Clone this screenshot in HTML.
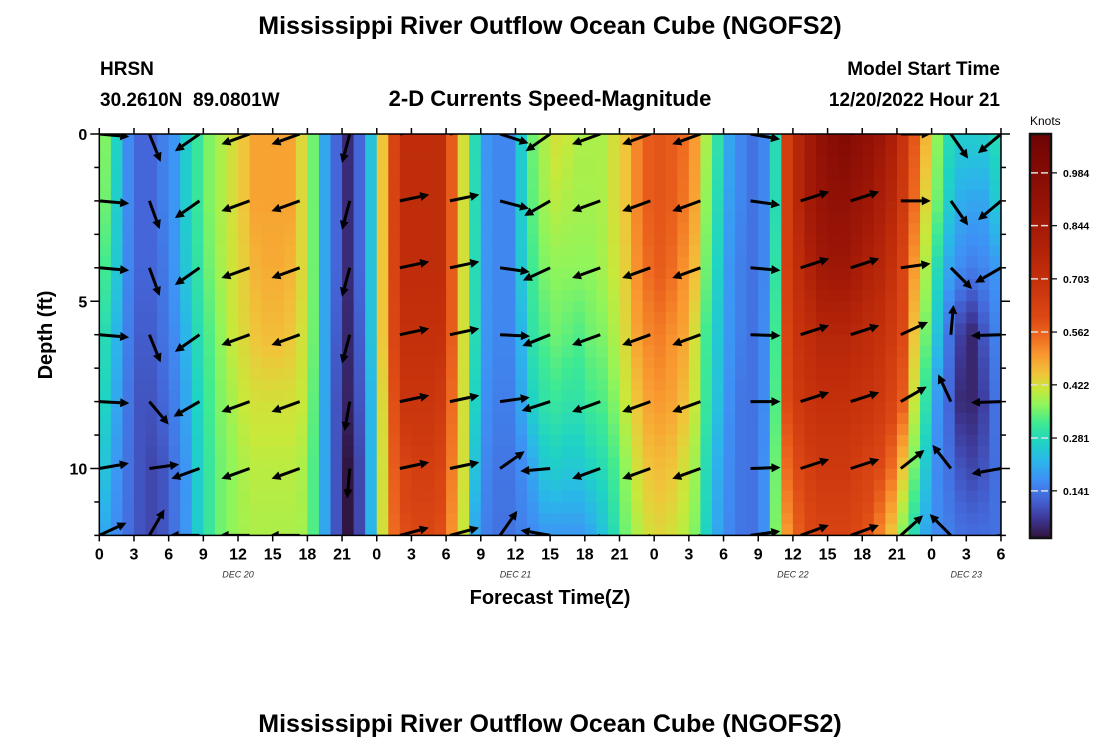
<!DOCTYPE html>
<html><head><meta charset="utf-8"><title>Mississippi River Outflow Ocean Cube (NGOFS2)</title>
<style>
html,body{margin:0;padding:0;background:#fff;}
body{width:1100px;height:750px;overflow:hidden;font-family:"Liberation Sans",Arial,sans-serif;}
svg text{font-family:"Liberation Sans",Arial,sans-serif;}
</style></head>
<body>
<svg id="chart" width="1100" height="750" viewBox="0 0 1100 750" xmlns="http://www.w3.org/2000/svg">
<rect x="0" y="0" width="1100" height="750" fill="#fff"/>
<text x="550" y="34" text-anchor="middle" font-size="25" font-weight="bold">Mississippi River Outflow Ocean Cube (NGOFS2)</text>
<text x="100" y="75" font-size="19" font-weight="bold">HRSN</text>
<text x="100" y="106" font-size="19" font-weight="bold" xml:space="preserve">30.2610N  89.0801W</text>
<text x="550" y="106" text-anchor="middle" font-size="22" font-weight="bold">2-D Currents Speed-Magnitude</text>
<text x="1000" y="75" text-anchor="end" font-size="19" font-weight="bold">Model Start Time</text>
<text x="1000" y="106" text-anchor="end" font-size="19" font-weight="bold">12/20/2022 Hour 21</text>
<g id="heat"></g>
<g id="arrows"></g>
<g id="axes"></g>
<g id="cbar"></g>
<text transform="translate(52,335) rotate(-90)" text-anchor="middle" font-size="20" font-weight="bold">Depth (ft)</text>
<text x="550" y="604" text-anchor="middle" font-size="20" font-weight="bold">Forecast Time(Z)</text>
<text x="550" y="732" text-anchor="middle" font-size="25" font-weight="bold">Mississippi River Outflow Ocean Cube (NGOFS2)</text>
</svg>
<script>
// ---- data ----
const depthNodes = [0, 2, 4, 6, 8, 10, 12];
const hoursCount = 78;
const speed0 = [.36,.27,.165,.12,.12,.15,.18,.26,.31,.36, .39,.42,.45,.49,.49,.49,.49,.43,.35,.2, .12,.05,.12,.24,.45,.62,.72,.72,.72,.72, .57,.42,.285,.18,.16,.16,.26,.35,.39,.42, .41,.39,.39,.39,.42,.45,.52,.57,.58,.57, .55,.5,.39,.3,.2,.16,.135,.16,.285,.64, .76,.85,.925,.97,1.0,.955,.925,.88,.81,.69, .58,.47,.37,.285,.26,.26,.26,.285];
const speed2 = [.35,.26,.165,.12,.12,.15,.18,.26,.31,.36, .39,.42,.45,.49,.49,.49,.49,.43,.35,.2, .12,.05,.12,.24,.45,.62,.72,.72,.72,.72, .57,.42,.285,.18,.16,.16,.26,.34,.38,.4, .39,.385,.385,.39,.42,.45,.52,.57,.58,.57, .54,.49,.37,.285,.19,.16,.135,.16,.285,.64, .76,.85,.895,.925,.925,.895,.865,.81,.76,.66, .55,.43,.35,.26,.21,.2,.2,.25];
const speed4 = [.32,.25,.16,.12,.12,.14,.18,.25,.3,.35, .385,.415,.44,.47,.48,.48,.47,.43,.35,.2, .12,.05,.12,.24,.45,.62,.72,.72,.72,.72, .57,.42,.285,.18,.16,.16,.25,.32,.36,.37, .37,.37,.37,.385,.41,.44,.51,.55,.57,.55, .51,.46,.35,.27,.18,.15,.135,.16,.3,.64, .72,.79,.85,.865,.865,.83,.79,.76,.7,.62, .5,.39,.285,.2,.165,.15,.16,.18];
const speed6 = [.285,.22,.15,.11,.11,.135,.165,.22,.285,.33, .37,.41,.43,.45,.46,.46,.45,.42,.35,.2, .11,.045,.11,.24,.45,.61,.7,.7,.7,.7, .57,.42,.285,.18,.16,.16,.22,.3,.33,.35, .34,.33,.35,.36,.39,.43,.49,.52,.53,.51, .49,.42,.32,.25,.18,.15,.135,.165,.32,.62, .69,.72,.76,.76,.76,.74,.72,.7,.66,.6, .45,.35,.24,.14,.075,.045,.1,.15];
const speed8 = [.27,.2,.14,.1,.1,.12,.15,.2,.27,.32, .36,.385,.41,.42,.42,.42,.42,.41,.34,.2, .1,.04,.1,.22,.43,.59,.68,.68,.68,.66, .55,.42,.27,.17,.15,.15,.2,.27,.3,.31, .3,.3,.32,.33,.36,.41,.45,.49,.5,.49, .46,.41,.31,.24,.17,.14,.135,.165,.33,.6, .66,.69,.7,.7,.7,.69,.68,.66,.62,.57, .41,.3,.18,.12,.05,.045,.075,.135];
const speed10 = [.24,.18,.135,.1,.085,.1,.14,.18,.26,.31, .35,.37,.39,.4,.4,.4,.4,.39,.33,.2, .1,.02,.085,.22,.42,.57,.62,.64,.64,.62, .53,.42,.24,.16,.14,.14,.165,.2,.25,.26, .25,.25,.27,.285,.32,.37,.42,.45,.46,.45, .42,.38,.285,.21,.165,.14,.135,.17,.35,.55, .6,.64,.66,.66,.66,.64,.62,.6,.55,.45, .35,.25,.165,.135,.1,.085,.1,.13];
const speed12 = [.2,.165,.13,.1,.085,.1,.135,.18,.26,.31, .35,.37,.385,.39,.39,.39,.39,.385,.33,.2, .1,.02,.085,.22,.42,.55,.59,.61,.61,.59, .51,.41,.2,.15,.135,.135,.15,.165,.18,.18, .18,.18,.2,.24,.285,.35,.39,.42,.43,.42, .4,.36,.27,.2,.16,.14,.135,.17,.36,.5, .57,.6,.62,.62,.62,.6,.58,.52,.45,.36, .285,.2,.165,.15,.135,.13,.13,.135];
const speedRows = [speed0, speed2, speed4, speed6, speed8, speed10, speed12];

// arrow directions (degrees, 0 = east, 90 = south) per arrow column, one array per depth node
const arrowHours = [0,4.333,8.667,13,17.333,21.667,26,30.333,34.667,39,43.333,47.667,52,56.333,60.667,65,69.333,73.667,78];
const dir0  = [5,68,145,160,160,105,-12,-12,18,145,160,160,160,10,-18,-18,0,55,140];
const dir2  = [5,70,145,160,160,105,-12,-12,15,150,160,160,160,8,-18,-18,0,55,140];
const dir4  = [5,70,145,160,160,105,-12,-12,8,155,160,160,160,5,-18,-18,-8,45,150];
const dir6  = [5,68,145,160,160,105,-12,-12,3,158,160,160,160,2,-18,-18,-25,-85,178];
const dir8  = [3,50,150,160,160,100,-12,-12,-8,162,160,160,160,0,-18,-18,-30,-115,178];
const dir10 = [-10,-8,160,160,160,95,-12,-12,-35,175,160,160,160,-2,-18,-18,-38,-128,170];
const dir12 = [-25,-60,180,180,180,95,-15,-15,-55,190,160,160,160,-8,-20,-20,-42,-135,170];
const dirRows = [dir0, dir2, dir4, dir6, dir8, dir10, dir12];

const xTickLabels = ['0','3','6','9','12','15','18','21','0','3','6','9','12','15','18','21','0','3','6','9','12','15','18','21','0','3','6'];
const dayLabels = ['DEC 20','DEC 21','DEC 22','DEC 23'];
const dayLabelHours = [12, 36, 60, 75];
const yTickLabels = ['0','5','10'];
const cbarTicks = [0.141, 0.281, 0.422, 0.562, 0.703, 0.844, 0.984];

// ---- layout ----
const X0 = 99.3, PXH = 11.56, Y0 = 134, PXF = 33.45;
const xs = h => X0 + h * PXH;
const ys = d => Y0 + d * PXF;
const XMAX = xs(hoursCount), YMAX = ys(12);
const VMIN = 0.016, VMAX = 1.087;
const stops = [[0.016,[48,18,59]],[0.07,[62,58,154]],[0.12,[68,102,216]],[0.17,[63,143,245]],[0.22,[43,182,234]],[0.27,[31,211,196]],[0.32,[63,234,146]],[0.37,[144,245,90]],[0.41,[200,232,58]],[0.45,[240,197,58]],[0.5,[249,154,48]],[0.55,[238,106,32]],[0.6,[220,72,20]],[0.7,[196,48,11]],[0.8,[173,31,8]],[0.9,[150,19,6]],[1.0,[130,10,4]],[1.087,[110,4,4]]];
function color(v){
  if (v <= stops[0][0]) return 'rgb(' + stops[0][1].join(',') + ')';
  for (let i = 1; i < stops.length; i++) {
    if (v <= stops[i][0]) {
      const a = stops[i-1], b = stops[i], t = (v - a[0]) / (b[0] - a[0]);
      const c = a[1].map((x, k) => Math.round(x + (b[1][k] - x) * t));
      return 'rgb(' + c.join(',') + ')';
    }
  }
  return 'rgb(' + stops[stops.length-1][1].join(',') + ')';
}
const NS = 'http://www.w3.org/2000/svg';
function mk(tag, attrs, parent){ const e = document.createElementNS(NS, tag); for (const k in attrs) e.setAttribute(k, attrs[k]); parent.appendChild(e); return e; }

// ---- heatmap ----
const heat = document.getElementById('heat');
const SUB = 3;
function valueAt(h, d){
  const i = Math.min(Math.floor(d / 2), 5), t = (d - i * 2) / 2;
  return speedRows[i][h] * (1 - t) + speedRows[i+1][h] * t;
}
for (let h = 0; h < hoursCount; h++) {
  for (let s = 0; s < 12 * SUB; s++) {
    const d0 = s / SUB, dm = (s + 0.5) / SUB;
    const r = mk('rect', {x: xs(h).toFixed(2), y: ys(d0).toFixed(2), width: (PXH + 0.6).toFixed(2), height: (PXF / SUB + 0.6).toFixed(2), fill: color(valueAt(h, dm))}, heat);
    
    
  }
}

// ---- arrows ----
const arrows = document.getElementById('arrows');
mk('clipPath', {id: 'plotclip'}, mk('defs', {}, document.getElementById('chart')));
const cp = document.getElementById('plotclip');
mk('rect', {x: X0, y: Y0, width: XMAX - X0, height: YMAX - Y0}, cp);
arrows.setAttribute('clip-path', 'url(#plotclip)');
const AL = 30;
for (let r = 0; r < depthNodes.length; r++) {
  for (let c = 0; c < arrowHours.length; c++) {
    const a = dirRows[r][c] * Math.PI / 180;
    const x1 = xs(arrowHours[c]), y1 = ys(depthNodes[r]);
    const x2 = x1 + AL * Math.cos(a), y2 = y1 + AL * Math.sin(a);
    const g = mk('g', {}, arrows);
    
    
    const hx = x2 - 9 * Math.cos(a), hy = y2 - 9 * Math.sin(a);
    mk('line', {x1: x1, y1: y1, x2: hx, y2: hy, stroke: '#000', 'stroke-width': 3}, g);
    const px = -Math.sin(a) * 4.5, py = Math.cos(a) * 4.5;
    mk('polygon', {points: `${x2},${y2} ${hx+px},${hy+py} ${hx-px},${hy-py}`, fill: '#000'}, g);
  }
}

// ---- axes ----
const axes = document.getElementById('axes');
const frame = mk('rect', {x: X0, y: Y0, width: XMAX - X0, height: YMAX - Y0, fill: 'none', stroke: '#000', 'stroke-width': 1.5}, axes);


for (let i = 0; i < xTickLabels.length; i++) {
  const x = xs(i * 3);
  mk('line', {x1: x, y1: Y0, x2: x, y2: Y0 - 6, stroke: '#000', 'stroke-width': 1.5}, axes);
  mk('line', {x1: x, y1: YMAX, x2: x, y2: YMAX + 6, stroke: '#000', 'stroke-width': 1.5}, axes);
  const t = mk('text', {x: x, y: YMAX + 24, 'text-anchor': 'middle', 'font-size': 16, 'font-weight': 'bold'}, axes);
  t.textContent = xTickLabels[i];
  
  
}
for (let i = 0; i < dayLabels.length; i++) {
  const t = mk('text', {x: xs(dayLabelHours[i]), y: YMAX + 42, 'text-anchor': 'middle', 'font-size': 9, 'font-style': 'italic', 'font-family': '"Liberation Mono", monospace', fill: '#333'}, axes);
  t.textContent = dayLabels[i];
  
  
}
for (let d = 0; d <= 12; d++) {
  const y = ys(d), major = d % 5 === 0;
  mk('line', {x1: X0, y1: y, x2: X0 - (major ? 9 : 5), y2: y, stroke: '#000', 'stroke-width': 1.5}, axes);
  mk('line', {x1: XMAX, y1: y, x2: XMAX + (major ? 9 : 5), y2: y, stroke: '#000', 'stroke-width': 1.5}, axes);
}
for (let i = 0; i < yTickLabels.length; i++) {
  const t = mk('text', {x: X0 - 12, y: ys(i * 5) + 6, 'text-anchor': 'end', 'font-size': 16, 'font-weight': 'bold'}, axes);
  t.textContent = yTickLabels[i];
  
  
}

// ---- colorbar ----
const cb = document.getElementById('cbar');
const CBX = 1030, CBW = 21, CBT = 134, CBB = 538;
const cy = v => CBB - (v - VMIN) / (VMAX - VMIN) * (CBB - CBT);
const defs = document.querySelector('defs');
const grad = mk('linearGradient', {id: 'cbgrad', x1: 0, y1: 1, x2: 0, y2: 0}, defs);
for (const s of stops) mk('stop', {offset: ((s[0] - VMIN) / (VMAX - VMIN)).toFixed(4), 'stop-color': color(s[0])}, grad);
const bar = mk('rect', {x: CBX, y: CBT, width: CBW, height: CBB - CBT, fill: 'url(#cbgrad)', stroke: '#111', 'stroke-width': 2.5}, cb);


for (const v of cbarTicks) {
  const y = cy(v);
  mk('line', {x1: CBX + 1, y1: y, x2: CBX + CBW - 1, y2: y, stroke: '#ddd', 'stroke-width': 1.5, 'stroke-dasharray': '7,3'}, cb);
  mk('line', {x1: CBX + CBW, y1: y, x2: CBX + CBW + 6, y2: y, stroke: '#000', 'stroke-width': 1.2}, cb);
  const t = mk('text', {x: 1063, y: y + 4, 'font-size': 10.5, 'font-weight': 'bold'}, cb);
  t.textContent = v.toFixed(3);
  
  
}
const kt = mk('text', {x: 1030, y: 125, 'font-size': 12}, cb);
kt.textContent = 'Knots';


</script>
</body></html>
